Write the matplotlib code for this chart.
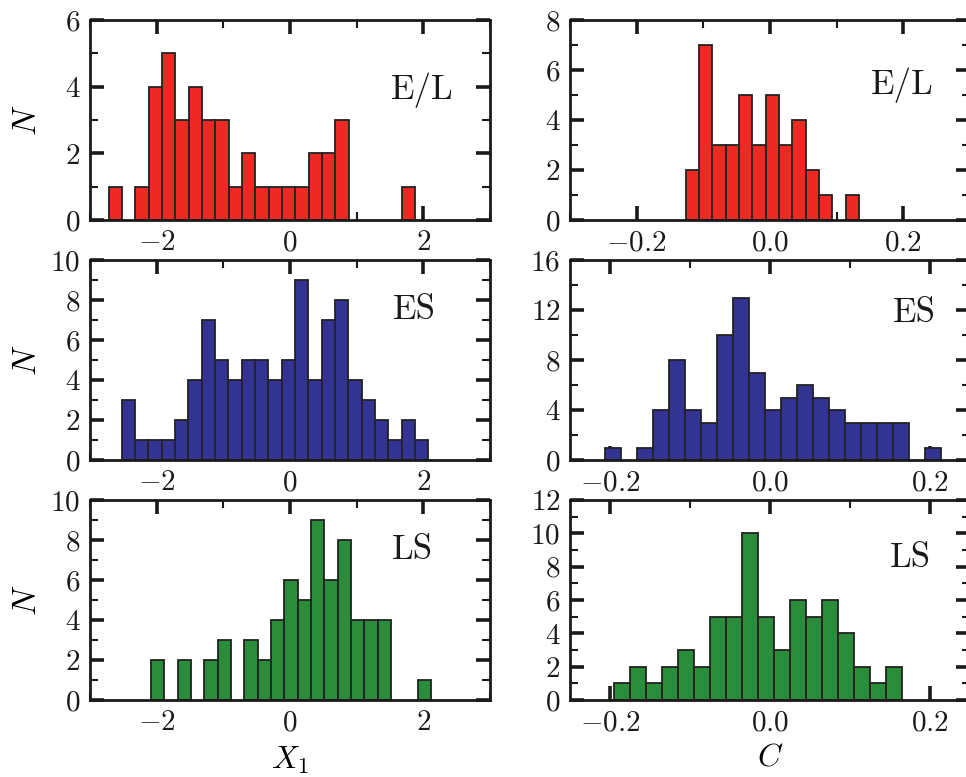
import numpy as np
import matplotlib
matplotlib.use("Agg")
import matplotlib.pyplot as plt
from matplotlib.ticker import MultipleLocator

plt.rcParams["font.family"] = "serif"
plt.rcParams["font.serif"] = ["cmr10"]
plt.rcParams["mathtext.fontset"] = "cm"
plt.rcParams["axes.formatter.use_mathtext"] = True

# histogram counts (bin start, bin width, counts)
x1_el_start, x1_width = -2.72, 0.2
x1_el_counts = [1, 0, 1, 4, 5, 3, 4, 3, 3, 1, 2, 1, 1, 1, 1, 2, 2, 3, 0, 0, 0, 0, 1]
x1_es_start = -2.525
x1_es_counts = [3, 1, 1, 1, 2, 4, 7, 5, 4, 5, 5, 4, 5, 9, 4, 7, 8, 4, 3, 2, 1, 2, 1]
x1_ls_start = -2.085
x1_ls_counts = [2, 0, 2, 0, 2, 3, 0, 3, 2, 4, 6, 5, 9, 6, 8, 4, 4, 4, 0, 0, 1]

c_width = 0.02
c_el_start = -0.1265
c_el_counts = [2, 7, 3, 3, 5, 3, 5, 3, 4, 2, 1, 0, 1]
c_es_start = -0.206
c_es_counts = [1, 0, 1, 4, 8, 4, 3, 10, 13, 7, 4, 5, 6, 5, 4, 3, 3, 3, 3, 0, 1]
c_ls_start = -0.195
c_ls_counts = [1, 2, 1, 2, 3, 2, 5, 5, 10, 5, 3, 6, 5, 6, 4, 2, 1, 2]

labels = ["E/L", "ES", "LS"]
colors = ["#ED2924", "#333394", "#2B8C3A"]

W, H = 966, 777
fig = plt.figure(figsize=(W / 100, H / 100), dpi=100)


def make_ax(left, top):
    return fig.add_axes([left / W, (H - top - 200) / H, 400 / W, 200 / H])


def style(ax, xmaj, xmin, ymaj, ymin):
    ax.xaxis.set_major_locator(MultipleLocator(xmaj))
    ax.xaxis.set_minor_locator(MultipleLocator(xmin))
    ax.yaxis.set_major_locator(MultipleLocator(ymaj))
    ax.yaxis.set_minor_locator(MultipleLocator(ymin))
    ax.tick_params(which="both", direction="in", top=True, right=True,
                   labelsize=21, pad=7, colors="#1a1a1a")
    ax.tick_params(which="major", length=10, width=2.6)
    ax.tick_params(which="minor", length=6, width=1.5)
    for s in ax.spines.values():
        s.set_linewidth(2.0)
        s.set_color("#1a1a1a")


def draw(ax, start, width, counts, color):
    counts = np.array(counts)
    lefts = start + width * np.arange(len(counts))
    keep = counts > 0
    ax.bar(lefts[keep], counts[keep], width=width, align="edge",
           color=color, edgecolor="#222222", linewidth=1.3, zorder=2)


tops = [20, 260, 500]
left_sets = [(x1_el_start, x1_el_counts), (x1_es_start, x1_es_counts), (x1_ls_start, x1_ls_counts)]
right_sets = [(c_el_start, c_el_counts), (c_es_start, c_es_counts), (c_ls_start, c_ls_counts)]
left_ylims = [6, 10, 10]
right_ylims = [8, 16, 12]
right_ymaj = [2, 4, 2]
right_ymin = [1, 2, 1]
right_xlims = [0.3, 0.25, 0.25]
left_lab_pos = [(0.83, 0.65), (0.81, 0.75), (0.805, 0.75)]
right_lab_pos = [(0.83, 0.675), (0.86, 0.735), (0.85, 0.71)]

for i in range(3):
    ax = make_ax(90, tops[i])
    draw(ax, left_sets[i][0], x1_width, left_sets[i][1], colors[i])
    ax.set_xlim(-3, 3)
    ax.set_ylim(0, left_ylims[i])
    style(ax, 2, 1, 2, 1)
    ax.set_ylabel("$N$", fontsize=24)
    ax.yaxis.set_label_coords(-0.12, 0.5)
    ax.text(*left_lab_pos[i], labels[i], transform=ax.transAxes, fontsize=25,
            ha="center", va="center", color="#1a1a1a")
    if i == 2:
        ax.set_xlabel("$X_1$", fontsize=23, labelpad=6)

    ax = make_ax(570, tops[i])
    draw(ax, right_sets[i][0], c_width, right_sets[i][1], colors[i])
    ax.set_xlim(-right_xlims[i], right_xlims[i])
    ax.set_ylim(0, right_ylims[i])
    style(ax, 0.2, 0.1, right_ymaj[i], right_ymin[i])
    ax.xaxis.set_major_formatter(matplotlib.ticker.FuncFormatter(
        lambda v, p: "$%.1f$" % v))
    ax.text(*right_lab_pos[i], labels[i], transform=ax.transAxes, fontsize=25,
            ha="center", va="center", color="#1a1a1a")
    if i == 2:
        ax.set_xlabel("$C$", fontsize=23, labelpad=6)

fig.savefig("out.png", dpi=100)
